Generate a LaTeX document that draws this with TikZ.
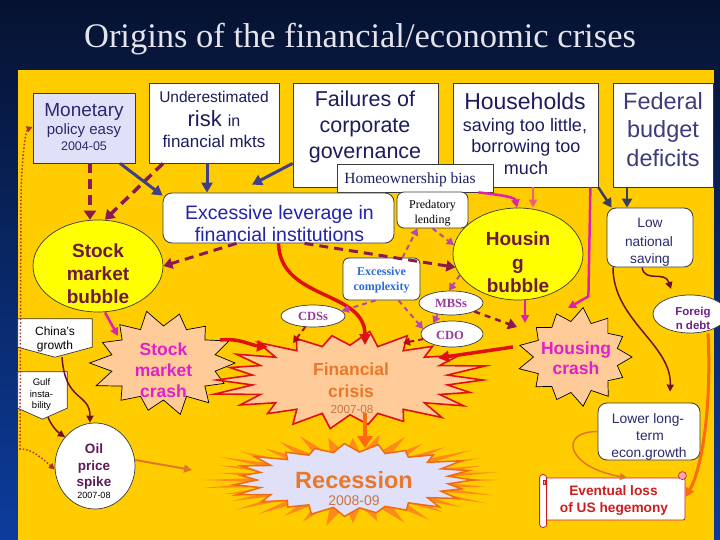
\documentclass[tikz,border=0pt]{standalone}
\usepackage{fontspec}
\setmainfont{Liberation Sans}
\newfontfamily\serifA{Liberation Serif}
\usetikzlibrary{arrows.meta,shapes.geometric}
\newcommand\fsz[1]{\fontsize{#1}{#1}\selectfont}
\newcommand\burstshape[7][]{\path[#1] plot[samples at={0,...,#6}, variable=\k] ({#2+#4*(1-(1-#7)*mod(\k,2)+0.06*sin(\k*131)*(1-mod(\k,2)))*cos((\k/(#6+1))*360)}, {#3+#5*(1-(1-#7)*mod(\k,2)+0.06*sin(\k*131)*(1-mod(\k,2)))*sin((\k/(#6+1))*360)}) -- cycle;}
\definecolor{panel}{HTML}{FFCC00}
\definecolor{bgtop}{HTML}{061230}
\definecolor{bgmid}{HTML}{0B2C78}
\definecolor{bgbot}{HTML}{0C3C9C}
\definecolor{bordc}{HTML}{3A3A3A}
\definecolor{lav}{HTML}{E0E0F8}
\definecolor{navyA}{HTML}{2A2A6E}
\definecolor{navyB}{HTML}{1C1C5E}
\definecolor{fedc}{HTML}{3C3C7C}
\definecolor{levc}{HTML}{2323A8}
\definecolor{bubc}{HTML}{6E1844}
\definecolor{bubfill}{HTML}{FFFF00}
\definecolor{cplxc}{HTML}{2C6CD0}
\definecolor{derivc}{HTML}{9A3A9A}
\definecolor{crashc}{HTML}{E020C8}
\definecolor{peach}{HTML}{FFCC99}
\definecolor{finc}{HTML}{E8782C}
\definecolor{yearc}{HTML}{C07848}
\definecolor{redc}{HTML}{E01010}
\definecolor{recout}{HTML}{FF8A1C}
\definecolor{recline}{HTML}{F06A10}
\definecolor{forgc}{HTML}{6E2088}
\definecolor{oilc}{HTML}{5A1A5A}
\definecolor{scrollc}{HTML}{CC1E1E}
\definecolor{pinkc}{HTML}{F0A8B8}
\definecolor{slateA}{HTML}{40408A}
\definecolor{slateB}{HTML}{3C3C5C}
\definecolor{mdash}{HTML}{8A1A4E}
\definecolor{pdash}{HTML}{B848A8}
\definecolor{magc}{HTML}{E020B0}
\definecolor{salmon}{HTML}{F06078}
\definecolor{maroon}{HTML}{701030}
\definecolor{orangeA}{HTML}{FF6A10}
\definecolor{orangeB}{HTML}{E07828}
\definecolor{titlec}{HTML}{E4E4EE}
\definecolor{dotc}{HTML}{B03030}
\begin{document}
\begin{tikzpicture}[x=1pt,y=-1pt,
 t/.style={anchor=base, inner sep=0pt},
 box/.style={draw=bordc, line width=0.8pt, fill=white, inner sep=0pt},
 rbox/.style={box, rounded corners=9pt},
 ell/.style={ellipse, draw=bordc, line width=0.7pt, fill=white, inner sep=0pt},
 hid/.style={ellipse, inner sep=0pt},
 pent/.style={draw=bordc, line width=0.7pt, fill=white},
 slatearr/.style={draw=slateA, line width=3pt, -{Triangle[length=10pt,width=11pt]}},
 slatearr2/.style={draw=slateB, line width=2.5pt, -{Triangle[length=9pt,width=10pt]}},
 mdasharr/.style={draw=mdash, line width=3.5pt, dash pattern=on 10pt off 6pt, -{Triangle[length=9pt,width=12pt]}},
 mdasharr2/.style={draw=mdash, line width=3pt, dash pattern=on 9pt off 6pt, -{Triangle[length=9pt,width=11pt]}},
 pdasharr/.style={draw=pdash, line width=2pt, dash pattern=on 5pt off 4pt, -{Triangle[length=7pt,width=8pt]}},
 rdasharr/.style={draw=redc!80!black, line width=2pt, dash pattern=on 5pt off 4pt, -{Triangle[length=7pt,width=8pt]}},
 redarr/.style={draw=redc, line width=3.5pt, -{Triangle[length=11pt,width=11pt]}},
 magarr/.style={draw=magc, line width=2.5pt, -{Triangle[length=8pt,width=8pt]}},
 thinarr/.style={draw=maroon, line width=1.5pt, -{Triangle[length=7pt,width=7pt]}},
 orarr/.style={draw=orangeA, line width=4.5pt, -{Triangle[length=12pt,width=15pt]}},
 orarr2/.style={draw=orangeB, line width=2pt, -{Triangle[length=8pt,width=8pt]}}]
\useasboundingbox (0,0) rectangle (720,540);
\shade[top color=bgtop, middle color=bgmid, bottom color=bgbot] (0,0) rectangle (720,540);
\fill[panel] (18,70) rectangle (714,540);
\node[t, text=titlec] (title) at (360,48) {\fsz{34.5}\serifA Origins of the financial/economic crises};

% bursts
\burstshape[fill=peach, draw=black, line width=0.7pt]{163.5}{363}{71.5}{50}{27}{0.74}
\burstshape[fill=peach, draw=black, line width=0.7pt]{576}{357}{56}{47}{25}{0.76}
\burstshape[fill=peach, draw=redc, line width=1.6pt]{350}{380}{133}{47}{43}{0.74}
\burstshape[fill=recout]{353}{480}{146}{44}{71}{0.6}
\burstshape[fill=lav, draw=recline, line width=1.5pt]{353}{480}{120}{35}{45}{0.8}
\node[hid, minimum width=143pt, minimum height=100pt] (scrash) at (163.5,363) {};
\node[hid, minimum width=112pt, minimum height=94pt] (hcrash) at (576,357) {};
\node[hid, minimum width=266pt, minimum height=94pt] (fin) at (350,380) {};
\node[hid, minimum width=292pt, minimum height=88pt] (rec) at (353,480) {};

% boxes
\node[box, fill=lav, minimum width=102pt, minimum height=70pt] (mon) at (84,128) {};
\node[box, minimum width=130pt, minimum height=80pt] (und) at (214,123) {};
\node[box, minimum width=145pt, minimum height=104pt] (fail) at (365.5,135) {};
\node[box, minimum width=145pt, minimum height=104pt] (hh) at (525.5,135) {};
\node[box, minimum width=100pt, minimum height=104pt] (fed) at (663,135) {};
\node[box, minimum width=156pt, minimum height=28pt] (home) at (415,178) {};
\node[rbox, minimum width=231pt, minimum height=50pt] (lev) at (278.5,218) {};
\node[rbox, rounded corners=7pt, minimum width=71pt, minimum height=36pt] (pred) at (432.5,210) {};
\node[rbox, minimum width=86pt, minimum height=59pt] (low) at (650,237.5) {};
\node[rbox, rounded corners=6pt, minimum width=77pt, minimum height=42pt] (cplx) at (381.5,279) {};
\node[rbox, minimum width=102pt, minimum height=57pt] (lower) at (649,431.5) {};
\node[ell, fill=bubfill, minimum width=130pt, minimum height=92pt] (sbub) at (98,266) {};
\node[ell, fill=bubfill, minimum width=130pt, minimum height=92pt] (hbub) at (518,254) {};
\node[ell, minimum width=64pt, minimum height=24pt] (mbs) at (451,303) {};
\node[ell, minimum width=62pt, minimum height=26pt] (cdo) at (452,334) {};
\node[ell, minimum width=64pt, minimum height=22pt] (cds) at (313,316) {};
\node[ell, minimum width=74pt, minimum height=38pt] (forg) at (690,314) {};
\node[ell, minimum width=80pt, minimum height=86pt] (oil) at (95,466) {};
\node[inner sep=0pt, minimum width=74pt, minimum height=38pt] (china) at (55,338) {};
\draw[pent] (china.north west) -- (china.north east) -- ([yshift=10]china.south east) -- (china.south) -- ([yshift=10]china.south west) -- cycle;
\node[inner sep=0pt, minimum width=49pt, minimum height=47pt] (gulf) at (42.5,395.5) {};
\draw[pent] (gulf.north west) -- (gulf.north east) -- ([yshift=11]gulf.south east) -- (gulf.south) -- ([yshift=11]gulf.south west) -- cycle;
\node[box, draw=scrollc, rounded corners=2pt, minimum width=145pt, minimum height=42pt] (scroll) at (612.5,499) {};
\draw[draw=scrollc, line width=0.8pt, fill=white, rounded corners=3pt] ([yshift=3]scroll.north west) rectangle ([xshift=7,yshift=-7]scroll.south west);
\draw[draw=scrollc, line width=0.6pt, fill=pinkc] ([xshift=-3,yshift=2]scroll.north east) circle (4pt);
\draw[draw=scrollc, line width=0.6pt, fill=pinkc] ([xshift=3.5,yshift=-3]scroll.north west) rectangle ([xshift=6,yshift=-7]scroll.north west);

% connectors
\draw[mdasharr] ([xshift=6]mon.south) -- ([xshift=-8]sbub.north);
\draw[mdasharr] ([xshift=-51]und.south) -- ([xshift=7]sbub.north);
\draw[slatearr] ([xshift=36]mon.south) -- ([yshift=-3]lev.north west);
\draw[slatearr] ([xshift=-7]und.south) -- ([xshift=-71.5]lev.north);
\draw[slatearr] ([yshift=24]fail.south west) -- ([xshift=-26.5,yshift=8]lev.north);
\draw[mdasharr2] ([xshift=-42]lev.south) -- (sbub.east);
\draw[mdasharr2] ([xshift=26]lev.south) -- (hbub.192.5);
\draw[redarr] (lev.south) .. controls +(1.5,57) and +(0,-55) .. ([xshift=15,yshift=35]fin.center);
\draw[pdasharr] ([xshift=21]cplx.north) -- ([xshift=-15]pred.south);
\draw[pdasharr] (pred.south) -- (hbub.172);
\draw[pdasharr] (hbub.200) -- ([xshift=-2]mbs.north);
\draw[pdasharr] ([xshift=-6]cplx.south) -- (cds.10);
\draw[pdasharr] ([xshift=17]cplx.south) -- (cdo.170);
\draw[pdasharr] (mbs.220) -- (cdo.150);
\draw[rdasharr] (cdo.190) -- ([xshift=53,yshift=37]fin.center);
\draw[rdasharr] (cds.235) -- ([xshift=-57,yshift=37]fin.center);
\draw[mdasharr2, line width=2.5pt, dash pattern=on 6pt off 5pt] (mbs.-20) -- ([xshift=-59,yshift=30]hcrash.center);
\draw[magarr] ([xshift=7]sbub.south) -- ([xshift=-45.5,yshift=27]scrash.center);
\draw[redarr] ([xshift=56.5,yshift=23]scrash.center) .. controls +(20,-2) and +(-18,-2) .. ([xshift=-82,yshift=33]fin.center);
\draw[redarr] ([xshift=-63,yshift=10]hcrash.center) -- ([xshift=88,yshift=22]fin.center);
\draw[orarr] ([xshift=15,yshift=-33]fin.center) -- ([xshift=12,yshift=32]rec.center);
\draw[orarr2] ([yshift=6]oil.east) -- ([xshift=-161,yshift=10]rec.center);
\draw[magarr] ([xshift=-15]home.south east) .. controls +(27,3) and +(-2,-10) .. ([xshift=-1]hbub.north);
\draw[draw=salmon, line width=2pt, -{Triangle[length=8pt,width=8pt]}] ([xshift=7.5]hh.south) -- ([xshift=15]hbub.north);
\draw[magarr] ([xshift=-8]hh.south east) -- ++(-2,109) -- ([xshift=-8,yshift=49]hcrash.center);
\draw[magarr] ([xshift=7]hbub.south) -- ([xshift=-51,yshift=34]hcrash.center);
\draw[slatearr2] (hh.south east) -- ([xshift=5]low.north west);
\draw[slatearr2] ([xshift=-36]fed.south) -- ([xshift=-23]low.north);
\draw[thinarr] ([xshift=-8]low.south) .. controls +(3,16) and +(-6,-19) .. ([xshift=-19,yshift=25]forg.center);
\draw[thinarr] ([xshift=-37]low.south) .. controls +(0,53) and +(2,-47) .. ([xshift=21,yshift=11]lower.north);
\draw[draw=orangeA, line width=3pt, -{Triangle[length=9pt,width=9pt]}] ([xshift=18]forg.south) .. controls +(4,80) and +(15,-25) .. ([yshift=2]scroll.east);
\draw[draw=orangeB, line width=1.5pt, -{Triangle[length=7pt,width=7pt]}] (lower.west) .. controls +(-40,0) and +(-60,-10) .. ([xshift=14.5]scroll.north);
\draw[thinarr] ([xshift=7]china.south) .. controls +(3,45) and +(0,-30) .. ([xshift=-5]oil.north);
\draw[thinarr] ([xshift=5.5,yshift=2]gulf.south) .. controls +(4,10) and +(-6,-4) .. (oil.136);
\coordinate (dotc1) at (20,449);
\draw[draw=dotc, line width=1.5pt, dotted, {Triangle[length=6pt,width=6pt]}-{Triangle[length=6pt,width=6pt]}] (oil.185) .. controls +(-20,-18) and +(8,0) .. (dotc1) -- ++(1,-249) .. controls +(1,-60) and +(-5,2) .. ([yshift=1]mon.west);

% texts
\node[t, text=navyA] at (84,117) {\fsz{19}Monetary};
\node[t, text=navyA] at (84,135) {\fsz{15}policy easy};
\node[t, text=navyA] at (84,151) {\fsz{12.5}2004-05};
\node[t, text=navyB] at (214,103) {\fsz{15.5}Underestimated};
\node[t, text=navyB] at (214,127) {\fsz{22}risk \fsz{16}in};
\node[t, text=navyB] at (214,148) {\fsz{17}financial mkts};
\node[t, text=navyB] at (365,107) {\fsz{21.5}Failures of};
\node[t, text=navyB] at (365,133) {\fsz{21.5}corporate};
\node[t, text=navyB] at (365,159) {\fsz{21.5}governance};
\node[t, text=navyB] at (410,184) {\fsz{15.5}\serifA Homeownership bias};
\node[t, text=navyB] at (525,110) {\fsz{23}Households};
\node[t, text=navyB] at (525,132) {\fsz{18}saving too little,};
\node[t, text=navyB] at (526,153) {\fsz{18}borrowing too};
\node[t, text=navyB] at (526,175) {\fsz{18}much};
\node[t, text=fedc] at (663,110) {\fsz{23.5}Federal};
\node[t, text=fedc] at (663,138) {\fsz{23.5}budget};
\node[t, text=fedc] at (663,167) {\fsz{23.5}deficits};
\node[t, text=levc] at (279.5,219) {\fsz{19.5}Excessive leverage in};
\node[t, text=levc] at (279.5,241) {\fsz{19.5}financial institutions};
\node[t, text=bubc] at (98,257) {\fsz{19}\bfseries Stock};
\node[t, text=bubc] at (98,280) {\fsz{19}\bfseries market};
\node[t, text=bubc] at (98,303) {\fsz{19}\bfseries bubble};
\node[t, text=black] at (432.5,209) {\fsz{12}\serifA Predatory};
\node[t, text=black] at (432.5,223) {\fsz{12}\serifA lending};
\node[t, text=bubc] at (518,245) {\fsz{19}\bfseries Housin};
\node[t, text=bubc] at (518,269) {\fsz{19}\bfseries g};
\node[t, text=bubc] at (518,292) {\fsz{19}\bfseries bubble};
\node[t, text=navyA] at (650,228) {\fsz{13.7}Low};
\node[t, text=navyA] at (649,246) {\fsz{13.7}national};
\node[t, text=navyA] at (650,263) {\fsz{13.7}saving};
\node[t, text=cplxc] at (381.5,275) {\fsz{12}\serifA\bfseries Excessive};
\node[t, text=cplxc] at (381.5,290) {\fsz{12}\serifA\bfseries complexity};
\node[t, text=derivc] at (451,307) {\fsz{12.5}\serifA\bfseries MBSs};
\node[t, text=derivc] at (450,339) {\fsz{12.5}\serifA\bfseries CDO};
\node[t, text=derivc] at (313,320) {\fsz{12.5}\serifA\bfseries CDSs};
\node[t, text=black] at (55,335) {\fsz{12}China's};
\node[t, text=black] at (55,349) {\fsz{12}growth};
\node[t, text=black] at (41.5,385) {\fsz{9.5}Gulf};
\node[t, text=black] at (41.5,397) {\fsz{9.5}insta-};
\node[t, text=black] at (41.5,408) {\fsz{9.5}bility};
\node[t, text=crashc] at (163.5,355) {\fsz{17.5}\bfseries Stock};
\node[t, text=crashc] at (163.5,376) {\fsz{17.5}\bfseries market};
\node[t, text=crashc] at (163.5,397) {\fsz{17.5}\bfseries crash};
\node[t, text=finc] at (351,375) {\fsz{17.5}\bfseries Financial};
\node[t, text=finc] at (351,397) {\fsz{17.5}\bfseries crisis};
\node[t, text=yearc] at (352,413) {\fsz{11.7}2007-08};
\node[t, text=finc] at (354,488) {\fsz{23.5}\bfseries Recession};
\node[t, text=yearc] at (354,505) {\fsz{14}2008-09};
\node[t, text=crashc] at (576,354) {\fsz{17.5}\bfseries Housing};
\node[t, text=crashc] at (576,374) {\fsz{17.5}\bfseries crash};
\node[t, text=forgc] at (693,315) {\fsz{11.5}\bfseries Foreig};
\node[t, text=forgc] at (693,329) {\fsz{11.5}\bfseries n debt};
\node[t, text=oilc] at (94,453) {\fsz{13.5}\bfseries Oil};
\node[t, text=oilc] at (94,470) {\fsz{13.5}\bfseries price};
\node[t, text=oilc] at (94,486) {\fsz{13.5}\bfseries spike};
\node[t, text=black] at (94,498) {\fsz{9}2007-08};
\node[t, text=navyA] at (648,423) {\fsz{13.8}Lower long-};
\node[t, text=navyA] at (650,440) {\fsz{13.8}term};
\node[t, text=navyA] at (649,457) {\fsz{13.8}econ.growth};
\node[t, text=scrollc] at (613.5,495) {\fsz{13.7}\bfseries Eventual loss};
\node[t, text=scrollc] at (614,512) {\fsz{13.7}\bfseries of US hegemony};
\end{tikzpicture}
\end{document}
